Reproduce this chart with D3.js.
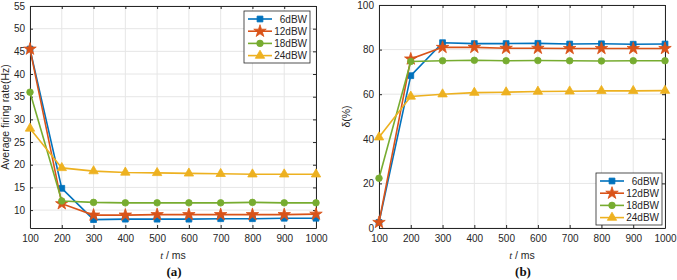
<!DOCTYPE html>
<html>
<head>
<meta charset="utf-8">
<script src="https://cdn.jsdelivr.net/npm/d3@7"></script>
<style>
body { margin: 0; background: #fff; }
svg text { font-family: "Liberation Sans", Arial, sans-serif; }
</style>
</head>
<body>
<script>
const width = 677;
const height = 280;

// data
var times = [100, 200, 300, 400, 500, 600, 700, 800, 900, 1000];
var seriesNames = ["6dBW", "12dBW", "18dBW", "24dBW"];
var colors = ["#0072BD", "#D95319", "#77AC30", "#EDB120"];
var markers = ["square", "star", "circle", "triangle"];

var rate6 = [45.5, 14.8, 7.9, 8.0, 8.0, 8.0, 8.1, 8.1, 8.2, 8.2];
var rate12 = [45.5, 11.4, 8.9, 8.9, 9.0, 9.0, 9.0, 9.0, 9.0, 9.1];
var rate18 = [36.0, 12.0, 11.7, 11.6, 11.6, 11.6, 11.6, 11.7, 11.6, 11.6];
var rate24 = [28.0, 19.3, 18.6, 18.3, 18.2, 18.1, 18.0, 17.9, 17.9, 17.9];

var delta6 = [2.5, 68.3, 83.1, 82.7, 82.7, 82.8, 82.5, 82.6, 82.4, 82.5];
var delta12 = [2.5, 75.8, 81.0, 81.0, 80.6, 80.6, 80.5, 80.5, 80.5, 80.5];
var delta18 = [22.3, 74.7, 75.0, 75.2, 75.0, 75.1, 75.0, 74.9, 75.0, 75.0];
var delta24 = [40.7, 59.0, 60.0, 60.7, 60.9, 61.2, 61.3, 61.5, 61.5, 61.6];

var xTicks = times;
var yTicksA = [10, 15, 20, 25, 30, 35, 40, 45, 50, 55];
var yTicksB = [0, 20, 40, 60, 80, 100];

var svg = d3.select("body")
  .append("svg")
  .attr("width", width)
  .attr("height", height);

function symbolFor(m) {
  if (m === "square") return d3.symbol().type(d3.symbolSquare).size(34);
  if (m === "star") return d3.symbol().type(d3.symbolStar).size(48);
  if (m === "circle") return d3.symbol().type(d3.symbolCircle).size(34);
  return d3.symbol().type(d3.symbolTriangle).size(38);
}

function drawPanel(opts) {
  var x = d3.scaleLinear().domain([100, 1000]).range([opts.left, opts.right]);
  var y = d3.scaleLinear().domain(opts.yDomain).range([opts.bottom, opts.top]);
  var g = svg.append("g");

  // grid
  g.selectAll(".gx").data(xTicks).enter().append("line")
    .attr("x1", d => x(d)).attr("x2", d => x(d))
    .attr("y1", opts.top).attr("y2", opts.bottom)
    .attr("stroke", "#e6e6e6").attr("stroke-width", 1);
  g.selectAll(".gy").data(opts.yTicks).enter().append("line")
    .attr("x1", opts.left).attr("x2", opts.right)
    .attr("y1", d => y(d)).attr("y2", d => y(d))
    .attr("stroke", "#e6e6e6").attr("stroke-width", 1);

  // axes (ticks inside, box)
  var fmt = d3.format("d");
  var xb = d3.axisBottom(x).tickValues(xTicks).tickFormat(fmt).tickSizeInner(-3).tickSizeOuter(0).tickPadding(7);
  var xt = d3.axisTop(x).tickValues(xTicks).tickSizeInner(-3).tickSizeOuter(0).tickFormat("");
  var yl = d3.axisLeft(y).tickValues(opts.yTicks).tickFormat(fmt).tickSizeInner(-3).tickSizeOuter(0).tickPadding(5);
  var yr = d3.axisRight(y).tickValues(opts.yTicks).tickSizeInner(-3).tickSizeOuter(0).tickFormat("");

  [[xb, "translate(0," + opts.bottom + ")"], [xt, "translate(0," + opts.top + ")"],
   [yl, "translate(" + opts.left + ",0)"], [yr, "translate(" + opts.right + ",0)"]].forEach(function (a) {
    var ax = g.append("g").attr("transform", a[1]).call(a[0]);
    ax.selectAll("path, line").attr("stroke", "#262626");
    ax.selectAll("text").attr("fill", "#262626").style("font-size", "10px");
  });

  // lines and markers
  opts.series.forEach(function (vals, i) {
    var pts = times.map((t, j) => [t, vals[j]]);
    g.append("path")
      .datum(pts)
      .attr("fill", "none")
      .attr("stroke", colors[i])
      .attr("stroke-width", 1.6)
      .attr("d", d3.line().x(d => x(d[0])).y(d => y(d[1])));
    g.selectAll(".m" + i).data(pts).enter().append("path")
      .attr("transform", d => "translate(" + x(d[0]) + "," + y(d[1]) + ")")
      .attr("d", symbolFor(markers[i])())
      .attr("fill", colors[i])
      .attr("stroke", colors[i])
      .attr("stroke-width", 0.8);
  });

  // legend
  var lg = g.append("g").attr("transform", "translate(" + opts.legX + "," + opts.legY + ")");
  lg.append("rect").attr("width", 66).attr("height", 52)
    .attr("fill", "#fff").attr("stroke", "#262626").attr("stroke-width", 0.8);
  seriesNames.forEach(function (name, i) {
    var yy = 8 + i * 12.2;
    lg.append("line").attr("x1", 4).attr("x2", 28).attr("y1", yy).attr("y2", yy)
      .attr("stroke", colors[i]).attr("stroke-width", 1.6);
    lg.append("path").attr("transform", "translate(16," + yy + ")")
      .attr("d", symbolFor(markers[i])()).attr("fill", colors[i]).attr("stroke", colors[i]).attr("stroke-width", 0.8);
    lg.append("text").attr("x", 63).attr("y", yy + 3.5).attr("text-anchor", "end")
      .style("font-size", "10px").attr("fill", "#262626").text(name);
  });

  // x label
  var xl = g.append("text").attr("x", (opts.left + opts.right) / 2).attr("y", 259)
    .attr("text-anchor", "middle").style("font-size", "10.5px").attr("fill", "#262626");
  xl.append("tspan").style("font-style", "italic").style("font-family", "'Liberation Serif', serif").text("t");
  xl.append("tspan").text(" / ms");

  // y label
  g.append("text")
    .attr("transform", "translate(" + opts.yLabX + "," + ((opts.top + opts.bottom) / 2) + ") rotate(-90)")
    .attr("text-anchor", "middle").style("font-size", "10.5px").attr("fill", "#262626")
    .text(opts.yLabel);

  // panel caption
  g.append("text").attr("x", (opts.left + opts.right) / 2 + 1).attr("y", 276)
    .attr("text-anchor", "middle")
    .style("font-family", "'Liberation Serif', serif").style("font-weight", "bold").style("font-size", "13px")
    .attr("fill", "#111").text(opts.caption);
}

drawPanel({
  left: 30, right: 316, top: 6, bottom: 228,
  yDomain: [6.05, 55], yTicks: yTicksA,
  series: [rate6, rate12, rate18, rate24],
  legX: 244, legY: 11,
  yLabX: 9, yLabel: "Average firing rate(Hz)", caption: "(a)"
});

drawPanel({
  left: 379, right: 665, top: 5, bottom: 228,
  yDomain: [0, 100], yTicks: yTicksB,
  series: [delta6, delta12, delta18, delta24],
  legX: 596, legY: 173,
  yLabX: 350, yLabel: "δ(%)", caption: "(b)"
});
</script>
</body>
</html>
